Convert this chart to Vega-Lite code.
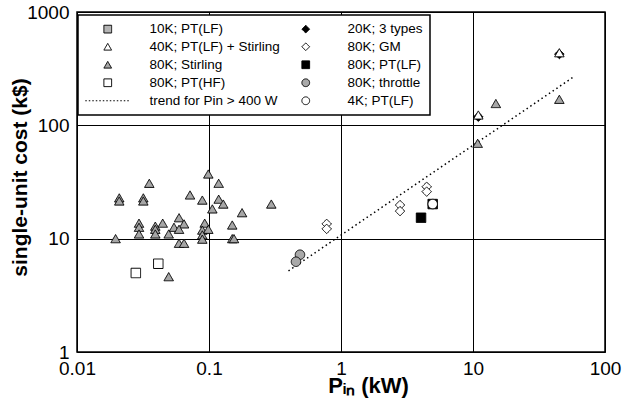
{
  "$schema": "https://vega.github.io/schema/vega-lite/v6.json",
  "width": 528,
  "height": 340,
  "autosize": {"type": "none"},
  "padding": {"left": 77, "top": 12, "right": 18, "bottom": 58},
  "background": "white",
  "config": {
    "font": "Liberation Sans",
    "view": {"stroke": "black", "strokeWidth": 1.5},
    "axis": {
      "domain": false,
      "ticks": false,
      "grid": true,
      "gridColor": "black",
      "gridWidth": 1,
      "gridOpacity": 1,
      "labelFont": "Liberation Sans",
      "labelFontSize": 19,
      "labelColor": "black",
      "labelOverlap": false,
      "labelBound": false,
      "labelFlush": false,
      "titleFont": "Liberation Sans",
      "titleFontWeight": "bold",
      "titleColor": "black"
    },
    "legend": {
      "padding": 7,
      "rowPadding": 3,
      "columnPadding": 3,
      "symbolOffset": 16,
      "labelOffset": 35,
      "symbolSize": 60,
      "symbolStrokeWidth": 1,
      "strokeColor": "black",
      "strokeWidth": 1.5,
      "fillColor": "white",
      "labelFont": "Liberation Sans",
      "labelFontSize": 13.5,
      "labelColor": "black",
      "labelLimit": 0
    }
  },
  "datasets": {
    "units": [
      {"p": 0.0988, "cost": 37.2, "series": "80K; Stirling"},
      {"p": 0.0353, "cost": 30.8, "series": "80K; Stirling"},
      {"p": 0.1184, "cost": 30.8, "series": "80K; Stirling"},
      {"p": 0.0209, "cost": 22.9, "series": "80K; Stirling"},
      {"p": 0.0209, "cost": 21.5, "series": "80K; Stirling"},
      {"p": 0.0318, "cost": 22.9, "series": "80K; Stirling"},
      {"p": 0.0318, "cost": 21.5, "series": "80K; Stirling"},
      {"p": 0.0718, "cost": 24.3, "series": "80K; Stirling"},
      {"p": 0.089, "cost": 21.9, "series": "80K; Stirling"},
      {"p": 0.1184, "cost": 22.3, "series": "80K; Stirling"},
      {"p": 0.1283, "cost": 20.2, "series": "80K; Stirling"},
      {"p": 0.106, "cost": 18.3, "series": "80K; Stirling"},
      {"p": 0.2965, "cost": 20.2, "series": "80K; Stirling"},
      {"p": 0.178, "cost": 16.95, "series": "80K; Stirling"},
      {"p": 0.0593, "cost": 15.3, "series": "80K; Stirling"},
      {"p": 0.0295, "cost": 13.7, "series": "80K; Stirling"},
      {"p": 0.0295, "cost": 12.6, "series": "80K; Stirling"},
      {"p": 0.0295, "cost": 11.0, "series": "80K; Stirling"},
      {"p": 0.0392, "cost": 12.9, "series": "80K; Stirling"},
      {"p": 0.0392, "cost": 12.1, "series": "80K; Stirling"},
      {"p": 0.0392, "cost": 11.0, "series": "80K; Stirling"},
      {"p": 0.0446, "cost": 13.7, "series": "80K; Stirling"},
      {"p": 0.0543, "cost": 12.6, "series": "80K; Stirling"},
      {"p": 0.0647, "cost": 13.5, "series": "80K; Stirling"},
      {"p": 0.0593, "cost": 12.1, "series": "80K; Stirling"},
      {"p": 0.0495, "cost": 11.0, "series": "80K; Stirling"},
      {"p": 0.0196, "cost": 10.0, "series": "80K; Stirling"},
      {"p": 0.0593, "cost": 9.1, "series": "80K; Stirling"},
      {"p": 0.0647, "cost": 9.1, "series": "80K; Stirling"},
      {"p": 0.0928, "cost": 13.7, "series": "80K; Stirling"},
      {"p": 0.089, "cost": 11.9, "series": "80K; Stirling"},
      {"p": 0.0988, "cost": 12.1, "series": "80K; Stirling"},
      {"p": 0.089, "cost": 10.8, "series": "80K; Stirling"},
      {"p": 0.089, "cost": 9.9, "series": "80K; Stirling"},
      {"p": 0.15, "cost": 13.2, "series": "80K; Stirling"},
      {"p": 0.15, "cost": 10.0, "series": "80K; Stirling"},
      {"p": 0.1546, "cost": 10.0, "series": "80K; Stirling"},
      {"p": 0.0495, "cost": 4.62, "series": "80K; Stirling"},
      {"p": 10.85, "cost": 69.4, "series": "80K; Stirling"},
      {"p": 14.9, "cost": 155.8, "series": "80K; Stirling"},
      {"p": 45.1, "cost": 169.7, "series": "80K; Stirling"},
      {"p": 0.0413, "cost": 6.01, "series": "80K; PT(HF)"},
      {"p": 0.0279, "cost": 4.98, "series": "80K; PT(HF)"},
      {"p": 0.489, "cost": 7.22, "series": "80K; throttle"},
      {"p": 0.456, "cost": 6.26, "series": "80K; throttle"},
      {"p": 0.779, "cost": 13.5, "series": "80K; GM"},
      {"p": 0.779, "cost": 12.2, "series": "80K; GM"},
      {"p": 2.8, "cost": 19.8, "series": "80K; GM"},
      {"p": 2.8, "cost": 17.5, "series": "80K; GM"},
      {"p": 4.46, "cost": 28.7, "series": "80K; GM"},
      {"p": 4.46, "cost": 26.0, "series": "80K; GM"},
      {"p": 4.04, "cost": 15.3, "series": "80K; PT(LF)"},
      {"p": 4.95, "cost": 20.2, "series": "80K; PT(LF)"},
      {"p": 4.95, "cost": 20.2, "series": "4K; PT(LF)"},
      {"p": 10.97, "cost": 119, "series": "20K; 3 types"},
      {"p": 45.1, "cost": 425, "series": "20K; 3 types"},
      {"p": 10.97, "cost": 123.4, "series": "40K; PT(LF) + Stirling"},
      {"p": 45.1, "cost": 437, "series": "40K; PT(LF) + Stirling"}
    ],
    "trend": [
      {"p": 0.4, "cost": 5.2},
      {"p": 59, "cost": 272}
    ]
  },
  "layer": [
    {
      "data": {"name": "trend"},
      "mark": {"type": "line", "stroke": "black", "strokeWidth": 1.5, "strokeDash": [1.5, 3]},
      "encoding": {
        "x": {"field": "p", "type": "quantitative", "scale": {"type": "log", "domain": [0.01, 100]}},
        "y": {"field": "cost", "type": "quantitative", "scale": {"type": "log", "domain": [1, 1000]}}
      }
    },
    {
      "data": {"name": "units"},
      "mark": {"type": "point", "filled": true, "opacity": 1, "size": 90, "strokeWidth": 1},
      "encoding": {
        "x": {
          "field": "p",
          "type": "quantitative",
          "scale": {"type": "log", "domain": [0.01, 100]},
          "axis": {
            "values": [0.01, 0.1, 1, 10, 100],
            "labelExpr": "'' + datum.value",
            "labelPadding": 7,
            "title": "Pᵢₙ (kW)",
            "titleFontSize": 22,
            "titleX": 291,
            "titleY": 40,
            "titleBaseline": "alphabetic",
            "titleAlign": "center"
          }
        },
        "y": {
          "field": "cost",
          "type": "quantitative",
          "scale": {"type": "log", "domain": [1, 1000]},
          "axis": {
            "values": [1, 10, 100, 1000],
            "labelExpr": "'' + datum.value",
            "labelPadding": 8,
            "title": "single-unit cost (k$)",
            "titleFontSize": 21,
            "titleX": -57,
            "titleY": 165,
            "titleBaseline": "middle",
            "titleAlign": "center",
            "titleAngle": -90
          }
        },
        "shape": {
          "field": "series",
          "type": "nominal",
          "scale": {
            "domain": ["10K; PT(LF)", "40K; PT(LF) + Stirling", "80K; Stirling", "80K; PT(HF)", "trend for Pin > 400 W", "20K; 3 types", "80K; GM", "80K; PT(LF)", "80K; throttle", "4K; PT(LF)"],
            "range": ["square", "triangle-up", "triangle-up", "square", "M-5.8,0H5.8", "diamond", "diamond", "square", "circle", "circle"]
          },
          "legend": {
            "title": null,
            "orient": "none",
            "legendX": 1,
            "legendY": 3,
            "columns": 2,
            "direction": "vertical",
            "strokeColor": "black",
            "fillColor": "white",
            "encode": {
              "legend": {"enter": {"stroke": {"value": "black"}, "strokeWidth": {"value": 1.5}}}
            }
          }
        },
        "fill": {
          "field": "series",
          "type": "nominal",
          "scale": {
            "domain": ["10K; PT(LF)", "40K; PT(LF) + Stirling", "80K; Stirling", "80K; PT(HF)", "trend for Pin > 400 W", "20K; 3 types", "80K; GM", "80K; PT(LF)", "80K; throttle", "4K; PT(LF)"],
            "range": ["#b4b4b4", "white", "#a6a6a6", "white", "transparent", "black", "white", "black", "#a9a9a9", "white"]
          },
          "legend": {
            "title": null,
            "orient": "none",
            "legendX": 1,
            "legendY": 3,
            "columns": 2,
            "direction": "vertical",
            "strokeColor": "black",
            "fillColor": "white",
            "encode": {
              "legend": {"enter": {"stroke": {"value": "black"}, "strokeWidth": {"value": 1.5}}}
            }
          }
        },
        "stroke": {
          "field": "series",
          "type": "nominal",
          "scale": {
            "domain": ["10K; PT(LF)", "40K; PT(LF) + Stirling", "80K; Stirling", "80K; PT(HF)", "trend for Pin > 400 W", "20K; 3 types", "80K; GM", "80K; PT(LF)", "80K; throttle", "4K; PT(LF)"],
            "range": ["black", "black", "black", "black", "black", "black", "black", "black", "black", "black"]
          },
          "legend": {
            "title": null,
            "orient": "none",
            "legendX": 1,
            "legendY": 3,
            "columns": 2,
            "direction": "vertical",
            "strokeColor": "black",
            "fillColor": "white",
            "encode": {
              "legend": {"enter": {"stroke": {"value": "black"}, "strokeWidth": {"value": 1.5}}}
            }
          }
        },
        "strokeDash": {
          "field": "series",
          "type": "nominal",
          "scale": {
            "domain": ["10K; PT(LF)", "40K; PT(LF) + Stirling", "80K; Stirling", "80K; PT(HF)", "trend for Pin > 400 W", "20K; 3 types", "80K; GM", "80K; PT(LF)", "80K; throttle", "4K; PT(LF)"],
            "range": [[1, 0], [1, 0], [1, 0], [1, 0], [1.5, 2], [1, 0], [1, 0], [1, 0], [1, 0], [1, 0]]
          },
          "legend": {
            "title": null,
            "orient": "none",
            "legendX": 1,
            "legendY": 3,
            "columns": 2,
            "direction": "vertical",
            "strokeColor": "black",
            "fillColor": "white",
            "encode": {
              "legend": {"enter": {"stroke": {"value": "black"}, "strokeWidth": {"value": 1.5}}}
            }
          }
        }
      }
    }
  ]
}
